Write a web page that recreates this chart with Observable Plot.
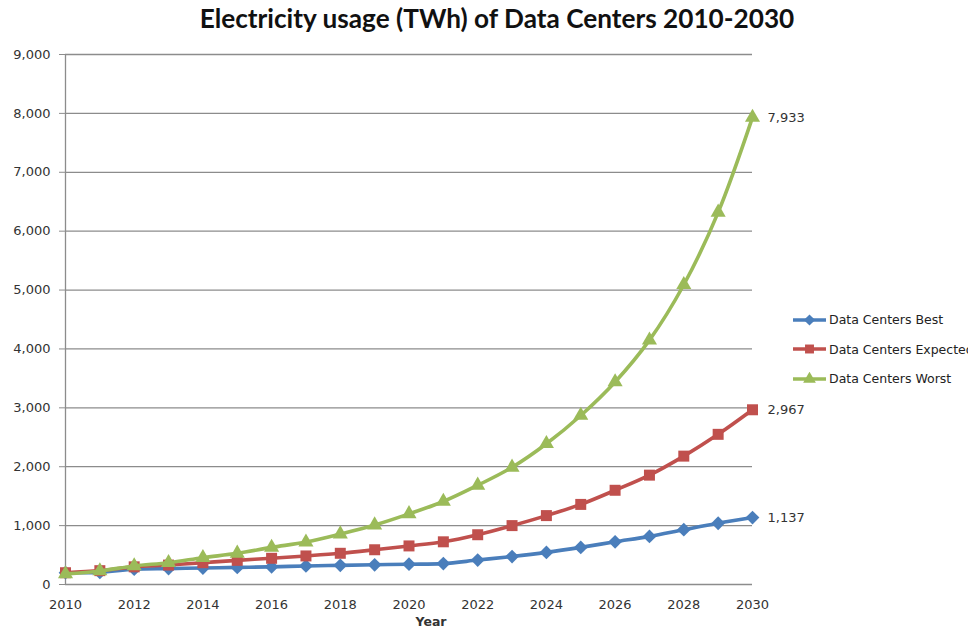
<!DOCTYPE html>
<html>
<head>
<meta charset="utf-8">
<script src="https://cdn.jsdelivr.net/npm/d3@7"></script>
<script src="https://cdn.jsdelivr.net/npm/@observablehq/plot@0.6"></script>
<style>
  html, body { margin: 0; padding: 0; background: #fff; overflow: hidden; }
  #wrap { position: relative; width: 968px; height: 631px; }
  #title { height: 36px; line-height: 36px; width: 994px; text-align: center; font-family: Lato, "Open Sans", sans-serif; font-weight: bold; font-size: 26.2px; color: #111; white-space: nowrap; }
  #legend { position: absolute; left: 793px; top: 305px; font-family: "DejaVu Sans", sans-serif; font-size: 12.5px; color: #222; white-space: nowrap; }
  .item { height: 29.5px; display: flex; align-items: center; }
  .item svg { margin-right: 3px; }
</style>
</head>
<body>
<div id="wrap">
  <div id="title">Electricity usage (TWh) of Data Centers 2010-2030</div>
  <div id="chart"></div>
  <div id="legend"></div>
</div>
<script>
const years = [2010,2011,2012,2013,2014,2015,2016,2017,2018,2019,2020,2021,2022,2023,2024,2025,2026,2027,2028,2029,2030];
const best = [200,205,260,270,280,290,300,315,325,335,345,355,415,475,545,630,725,817,930,1040,1137];
const expected = [200,235,300,330,370,410,445,485,530,590,655,725,845,1000,1170,1360,1600,1857,2180,2550,2967];
const worst = [180,230,315,370,455,530,630,720,857,1010,1200,1410,1685,1990,2390,2870,3440,4150,5090,6320,7933];
const seriesNames = ["Data Centers Best", "Data Centers Expected", "Data Centers Worst"];
const seriesColors = ["#4A7EBB", "#C0504D", "#9BBB59"];
const seriesSymbols = ["diamond2", "square", "triangle"];
const yTicks = [0,1000,2000,3000,4000,5000,6000,7000,8000,9000];
const xTicks = [2010,2012,2014,2016,2018,2020,2022,2024,2026,2028,2030];

const seriesValues = [best, expected, worst];
const rows = [];
seriesNames.forEach((name, i) => {
  years.forEach((yr, j) => rows.push({series: name, year: yr, value: seriesValues[i][j]}));
});
const lastRows = seriesNames.map((name, i) => ({series: name, year: years[years.length - 1], value: seriesValues[i][years.length - 1]}));
const fmt = d3.format(",");
const symbolR = [6.2, 6.2, 5.6];

const marks = [
  Plot.gridY(yTicks, {stroke: "#8c8c8c", strokeOpacity: 1, strokeWidth: 1.3}),
  Plot.ruleX([years[0]], {stroke: "#8c8c8c", strokeWidth: 1.3}),
  Plot.axisY(yTicks, {tickFormat: fmt, tickSize: 6, tickPadding: 9, stroke: "#8c8c8c", fill: "#333", fontSize: 13, label: null}),
  Plot.axisX(xTicks, {tickFormat: d => String(d), tickSize: 0, tickPadding: 15, fill: "#333", fontSize: 13, label: null}),
  Plot.text(["Year"], {frameAnchor: "bottom", dx: 22, dy: 41, fontWeight: "bold", fontSize: 12.5, fill: "#333"})
];
seriesNames.forEach((name, i) => {
  const data = rows.filter(r => r.series === name);
  marks.push(Plot.line(data, {x: "year", y: "value", stroke: seriesColors[i], strokeWidth: 3.6, curve: "catmull-rom"}));
  marks.push(Plot.dot(data, {x: "year", y: "value", fill: seriesColors[i], stroke: "none", symbol: seriesSymbols[i], r: symbolR[i]}));
});
marks.push(Plot.text(lastRows, {x: "year", y: "value", text: d => fmt(d.value), dx: 15, textAnchor: "start", fontSize: 13, fill: "#333"}));

const chart = Plot.plot({
  width: 968,
  height: 595,
  marginTop: 18,
  marginLeft: 65,
  marginRight: 216,
  marginBottom: 47,
  style: {fontFamily: "'DejaVu Sans', sans-serif", background: "#fff", overflow: "visible"},
  x: {domain: [2010, 2030], axis: null},
  y: {domain: [0, 9000], axis: null},
  marks
});
document.getElementById("chart").appendChild(chart);

const legend = document.getElementById("legend");
seriesNames.forEach((name, i) => {
  const item = document.createElement("div");
  item.className = "item";
  const sw = d3.create("svg").attr("width", 33).attr("height", 14);
  sw.append("line").attr("x1", 0).attr("x2", 33).attr("y1", 7).attr("y2", 7).attr("stroke", seriesColors[i]).attr("stroke-width", 3.6);
  const sym = {diamond2: d3.symbolDiamond2, square: d3.symbolSquare, triangle: d3.symbolTriangle}[seriesSymbols[i]];
  sw.append("path").attr("transform", "translate(16.5,7)").attr("d", d3.symbol(sym, i === 2 ? 70 : 80)()).attr("fill", seriesColors[i]);
  item.appendChild(sw.node());
  const t = document.createElement("span");
  t.textContent = name;
  item.appendChild(t);
  legend.appendChild(item);
});
</script>
</body>
</html>
